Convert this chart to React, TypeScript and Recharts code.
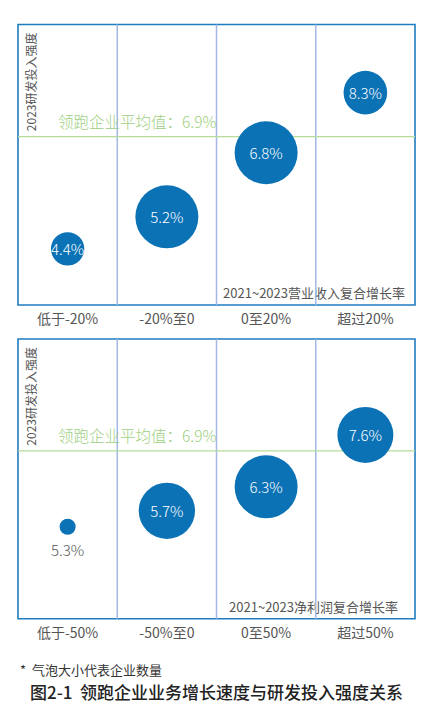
import { ReferenceArea, ReferenceLine, Scatter, ScatterChart, XAxis, YAxis, ZAxis } from 'recharts'

// 营业收入增长分组
const revenueGroups = ['低于-20%', '-20%至0', '0至20%', '超过20%']
const revenueRd = [4.4, 5.2, 6.8, 8.3]
const revenueCount = [28, 100, 100, 48]

// 净利润增长分组
const profitGroups = ['低于-50%', '-50%至0', '0至50%', '超过50%']
const profitRd = [5.3, 5.7, 6.3, 7.6]
const profitCount = [6.5, 80, 100, 79]

const avgValue = '6.9%'
const avgLineAt = 7.2 // where the line sits on the drawn scale

const BLUE = '#0B72B5'
const BORDER = '#1E7CC1'
const COL_LINE = '#A3B8E6'
const GREEN_LINE = '#B5DC98'
const GREEN_TEXT = '#9DCF7E'
const GRAY = '#555'
const FONT = "'Noto Sans CJK SC', 'Noto Sans', sans-serif"

function Bubble(props: any) {
  const { cx, cy, width, payload } = props
  const r = width / 2
  const inside = r > 14
  return (
    <g>
      <circle cx={cx} cy={cy} r={r} fill={BLUE} />
      <text
        x={cx} y={inside ? cy : cy + r + 15} textAnchor="middle" dominantBaseline="central"
        fill={inside ? '#fff' : GRAY} fontSize={15} fontFamily={FONT} fontWeight={300}
      >
        {payload.rd.toFixed(1)}%
      </text>
    </g>
  )
}

function BubbleChart({
  groups, rd, count, xTitle, top, height, marginTop, axisH, titleRight,
}: {
  groups: string[]; rd: number[]; count: number[]; xTitle: string
  top: number; height: number; marginTop: number; axisH: number; titleRight: number
}) {
  const data = groups.map((g, i) => ({ x: i + 0.5, rd: rd[i], count: count[i], name: g }))
  const Tick = ({ x, y, payload }: any) => (
    <text x={x} y={y + 13} textAnchor="middle" dominantBaseline="central" fill={GRAY} fontSize={14} fontFamily={FONT}>
      {groups[Math.floor(payload.value)]}
    </text>
  )
  const frameLabel = ({ viewBox }: any) => {
    const { x, y, width, height: h } = viewBox
    return (
      <g fontFamily={FONT}>
        <text
          x={x + 12} y={y + 8} textAnchor="end" dominantBaseline="central" fill={GRAY} fontSize={12}
          transform={`rotate(-90, ${x + 12}, ${y + 8})`}
        >
          2023研发投入强度
        </text>
        <text x={x + width - titleRight} y={y + h - 12.5} textAnchor="end" dominantBaseline="central" fill={GRAY} fontSize={13}>
          {xTitle}
        </text>
      </g>
    )
  }
  return (
    <div style={{ position: 'absolute', left: 0, top, width: 432, height }}>
      <ScatterChart width={432} height={height} margin={{ top: marginTop, right: 17, bottom: 0, left: 18 }}>
        <XAxis
          type="number" dataKey="x" domain={[0, 4]} ticks={[0.5, 1.5, 2.5, 3.5]} height={axisH}
          axisLine={false} tickLine={false} tickSize={0} tickMargin={0} tick={<Tick />} interval={0}
        />
        <YAxis type="number" dataKey="rd" domain={[3, 10]} hide />
        <ZAxis type="number" dataKey="count" domain={[0, 100]} range={[0, 3117]} />
        {[1, 2, 3].map((v) => (
          <ReferenceLine key={v} x={v} stroke={COL_LINE} strokeWidth={1.5} />
        ))}
        <ReferenceLine
          y={avgLineAt} stroke={GREEN_LINE} strokeWidth={1.2}
          label={{ value: `领跑企业平均值：${avgValue}`, position: 'insideTopLeft', offset: 0, dx: 40, dy: -20, fill: GREEN_TEXT, fontSize: 15.5, fontFamily: FONT, fontWeight: 300 }}
        />
        <ReferenceArea
          x1={0} x2={4} y1={3} y2={10} fill="none" stroke={BORDER} strokeWidth={1.6} fillOpacity={0}
          label={frameLabel}
        />
        <Scatter data={data} shape={<Bubble />} isAnimationActive={false} />
      </ScatterChart>
    </div>
  )
}

export default function App() {
  return (
    <div style={{ position: 'absolute', left: 0, top: 0, width: 432, height: 720, background: '#fff', fontFamily: FONT }}>
      <BubbleChart
        groups={revenueGroups} rd={revenueRd} count={revenueCount} xTitle="2021~2023营业收入复合增长率"
        top={0} height={330} marginTop={24.5} axisH={25} titleRight={10}
      />
      <BubbleChart
        groups={profitGroups} rd={profitRd} count={profitCount} xTitle="2021~2023净利润复合增长率"
        top={330} height={330} marginTop={9} axisH={41.3} titleRight={17}
      />
      <div style={{ position: 'absolute', left: 20, top: 660, fontSize: 13, color: '#333', lineHeight: '20px' }}>
        *&nbsp;&nbsp;气泡大小代表企业数量
      </div>
      <div style={{ position: 'absolute', left: 30, top: 681, fontSize: 17, fontWeight: 500, color: '#222', lineHeight: '22px', whiteSpace: 'nowrap' }}>
        图2-1&nbsp;&nbsp;领跑企业业务增长速度与研发投入强度关系
      </div>
    </div>
  )
}
